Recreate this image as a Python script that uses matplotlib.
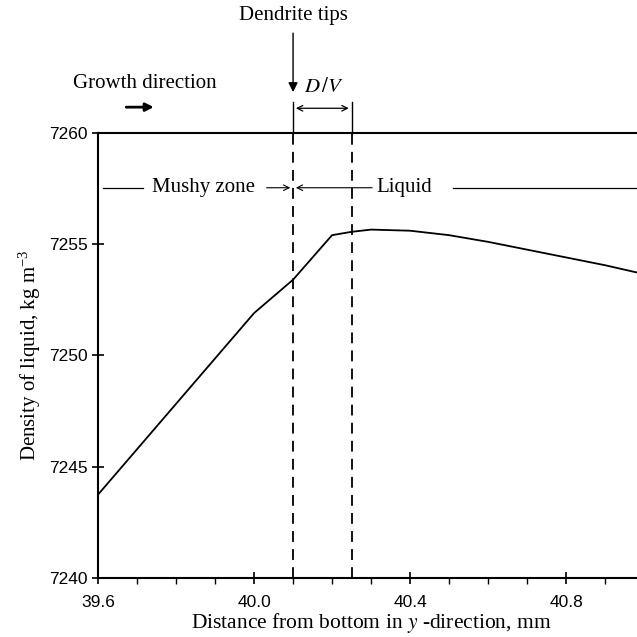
import numpy as np
import matplotlib.pyplot as plt
from matplotlib.ticker import MultipleLocator

plt.rcParams["mathtext.fontset"] = "stix"

# ── Data ─────────────────────────────────────────────────────────────────────
distance = [39.6, 40.0, 40.1, 40.2, 40.25, 40.3, 40.4, 40.5, 40.6, 40.7, 40.8, 40.9, 41.0]
density  = [7243.75, 7251.9, 7253.4, 7255.4, 7255.55, 7255.65, 7255.6, 7255.4, 7255.1,
            7254.75, 7254.4, 7254.05, 7253.65]

TIP_X   = 40.1    # dendrite tips
DV_X    = 40.25   # tip + D/V
X_TICKS = [39.6, 40.0, 40.4, 40.8]
Y_TICKS = [7240, 7245, 7250, 7255, 7260]

SERIF = "Liberation Serif"
SANS  = "Liberation Sans"
FS    = 15

# ── Plot ─────────────────────────────────────────────────────────────────────
fig = plt.figure(figsize=(6.37, 6.37), dpi=100)
ax = fig.add_axes([0.154, 0.0926, 0.857, 0.699])

ax.plot(distance, density, color="black", lw=1.3)

ax.set_xlim(39.6, 41.0)
ax.set_ylim(7240, 7260)
ax.set_xticks(X_TICKS)
ax.set_xticklabels([f"{v:.1f}" for v in X_TICKS])
ax.xaxis.set_minor_locator(MultipleLocator(0.1))
ax.set_yticks(Y_TICKS)

for s in ["left", "top", "bottom"]:
    ax.spines[s].set_linewidth(1.5)
ax.spines["right"].set_visible(False)

ax.tick_params(axis="both", which="major", direction="inout", length=9, width=1.2,
               labelsize=12.5)
ax.tick_params(axis="x", which="major", pad=7.5)
ax.tick_params(axis="y", which="major", pad=3)
ax.tick_params(axis="x", which="minor", direction="out", length=4, width=1.0)
for lab in ax.get_xticklabels() + ax.get_yticklabels():
    lab.set_fontfamily(SANS)

ax.set_xlabel(r"Distance from bottom in $y$ -direction, mm", fontfamily=SERIF,
              fontsize=15.5, labelpad=1)
ax.set_ylabel(r"Density of liquid, kg m$^{\mathregular{-3}}$", fontfamily=SERIF,
              fontsize=FS, labelpad=4)

# dashed verticals + extension lines above the frame
for x in (TIP_X, DV_X):
    ax.plot([x, x], [7240, 7260], color="black", lw=1.3, ls=(0, (6, 4)), clip_on=False)
    ax.plot([x, x], [7260, 7261.4], color="black", lw=1.0, clip_on=False)

# D/V dimension arrow
ax.annotate("", xy=(TIP_X, 7261.1), xytext=(DV_X, 7261.1),
            arrowprops=dict(arrowstyle="<->", lw=0.9, color="black"),
            annotation_clip=False)
ax.text((TIP_X + DV_X) / 2 + 0.005, 7262.05, r"$D\,/V$", fontsize=FS,
        ha="center", va="center", fontfamily=SERIF)

# dendrite tip arrow
ax.annotate("", xy=(TIP_X, 7261.7), xytext=(TIP_X, 7264.6),
            arrowprops=dict(arrowstyle="-|>", lw=1.0, color="black",
                            mutation_scale=14),
            annotation_clip=False)
ax.text(TIP_X, 7265.25, "Dendrite tips", fontsize=FS, ha="center", va="center",
        fontfamily=SERIF)

# growth direction
ax.text(39.72, 7262.2, "Growth direction", fontsize=FS, ha="center", va="center",
        fontfamily=SERIF)
ax.annotate("", xy=(39.75, 7261.15), xytext=(39.665, 7261.15),
            arrowprops=dict(arrowstyle="-|>", lw=2.0, color="black",
                            mutation_scale=12),
            annotation_clip=False)

# mushy zone / liquid labels
ROW_Y = 7257.53
ax.plot([39.613, 39.715], [ROW_Y, ROW_Y], color="black", lw=0.9)
ax.text(39.87, ROW_Y, "Mushy zone", fontsize=FS, ha="center", va="center",
        fontfamily=SERIF)
ax.annotate("", xy=(TIP_X, ROW_Y), xytext=(40.025, ROW_Y),
            arrowprops=dict(arrowstyle="->", lw=0.8, color="black"))
ax.annotate("", xy=(TIP_X, ROW_Y), xytext=(40.31, ROW_Y),
            arrowprops=dict(arrowstyle="->", lw=0.8, color="black"))
ax.text(40.385, ROW_Y, "Liquid", fontsize=FS, ha="center", va="center",
        fontfamily=SERIF)
ax.plot([40.51, 41.0], [ROW_Y, ROW_Y], color="black", lw=0.9)

fig.savefig("out.png", dpi=100)
